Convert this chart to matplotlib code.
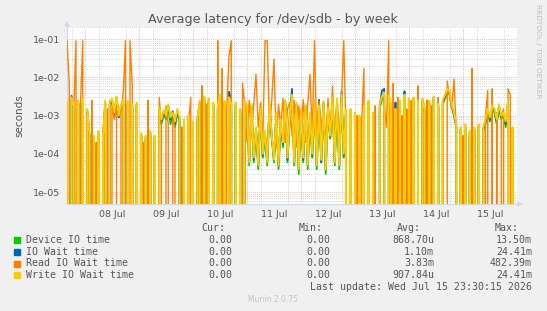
import datetime as dt

import numpy as np
import matplotlib
matplotlib.use('Agg')
import matplotlib.pyplot as plt
import matplotlib.dates as mdates
from matplotlib.ticker import LogLocator, FuncFormatter, NullFormatter

# ------------------------------------------------------------
# data (milliseconds, hourly from 07 Jul 16:00)
# ------------------------------------------------------------

start = dt.datetime(2026, 7, 7, 16, 0)
hours = np.arange(200)

write_ms = [
    2.2, 0, 3.0, 1.8, 0, 2.5, 0, 2.8, 0, 1.5,
    0.35, 0, 0.3, 0, 0.4, 0, 0.3, 2.5, 0, 2.2,
    2.8, 1.2, 3.2, 1.0, 2.0, 2.6, 0, 2.4, 0, 2.0,
    0, 2.2, 0, 0.35, 0, 0.3, 0, 0.4, 0, 0.3,
    0, 1.6, 0.8, 1.4, 1.0, 2.0, 0.9, 1.2, 0.7, 1.5,
    0.9, 0, 0.8, 0, 1.0, 0, 0.7, 0, 0.9, 2.5,
    0, 3.2, 0, 2.8, 0, 2.2, 0, 1.8, 3.5, 0,
    2.4, 0, 3.0, 2.0, 0, 2.2, 0, 1.5, 0, 2.5,
    1.8, 0.06, 2.0, 0.08, 0.5, 0.05, 1.5, 0.1, 0.4, 0.06,
    2.2, 0.3, 0.07, 1.2, 0.05, 0.8, 0.2, 2.6, 0.08, 1.0,
    3.5, 0.06, 2.2, 0.04, 1.5, 0.08, 2.0, 0.05, 1.2, 0.1,
    2.6, 0.05, 1.8, 0.07, 2.4, 0.04, 1.6, 0.3, 3.0, 0.06,
    2.8, 0.05, 3.5, 0.1, 1.5, 0, 1.5, 0, 1.2, 0,
    1.0, 0, 1.8, 0, 2.5, 0, 1.2, 0, 0, 2.0,
    3.2, 4.0, 0, 3.5, 2.0, 0, 1.5, 0, 2.5, 0,
    3.5, 0, 2.8, 0, 3.0, 0, 2.5, 0, 2.8, 1.5,
    0, 2.5, 0, 3.2, 0, 2.0, 0, 2.5, 3.5, 5.0,
    4.5, 2.0, 1.2, 0.6, 0, 0.5, 0, 0.6, 0, 0.4,
    0, 0.5, 0, 0.6, 0, 0.5, 0.8, 1.5, 0.9, 1.8,
    1.5, 0.8, 2.0, 1.0, 1.2, 0.7, 2.5, 0, 0.5, 0,
]

read_ms = [
    90, 7, 0, 1.5, 90, 0, 2.0, 90, 0, 1.0,
    0, 2.5, 0, 0.2, 0, 0, 0.3, 0, 1.5, 0,
    2.0, 0.8, 1.5, 0, 1.2, 4.0, 90, 0, 90, 6.0,
    0, 1.5, 0, 0, 0.2, 0, 2.5, 0, 0, 0.2,
    0, 3.0, 0.5, 0, 1.8, 0.6, 0, 0.8, 0.5, 0,
    0, 0.5, 0, 0, 0.6, 3.0, 0, 0, 0.5, 0,
    6.0, 0, 2.0, 0, 0, 1.5, 0, 90, 0, 17,
    0, 1.5, 35, 90, 0, 2.0, 0, 0, 7.0, 2.0,
    0.2, 2.5, 0.3, 2.0, 12, 0.5, 2.2, 0.2, 90, 90,
    0.4, 2.5, 30, 0.15, 2.0, 0.5, 2.8, 0.2, 1.5, 2.2,
    0.3, 2.5, 0.15, 1.8, 0.4, 2.6, 0.2, 2.0, 12, 0.3,
    90, 0.2, 2.4, 0.5, 1.6, 0.12, 2.8, 0.3, 6.0, 0.2,
    2.0, 0.15, 2.5, 90, 0.3, 0, 1.2, 0, 0, 1.0,
    0, 0.8, 17, 0, 1.5, 0, 0, 1.8, 0, 1.2,
    0, 2.0, 0.5, 90, 0, 7.0, 0, 3.0, 0, 1.0,
    0, 1.5, 0, 2.5, 0, 0, 6.0, 0, 1.2, 0,
    2.5, 0, 1.8, 0, 0, 3.0, 0, 2.0, 0, 8.0,
    3.0, 1.5, 9.0, 0.4, 0, 0, 0.3, 0, 0, 0,
    17, 0, 0, 0.4, 0, 0, 1.0, 4.5, 0, 5.0,
    0, 1.2, 0, 0.8, 1.5, 0, 5.0, 3.5, 0, 0,
]

device_ms = [
    1.8, 0, 2.5, 1.5, 0, 2.0, 0, 2.2, 0, 1.2,
    0.3, 0, 0.25, 0, 0.3, 0, 0.25, 2.0, 0, 2.4,
    2.2, 1.0, 2.6, 0.9, 1.6, 2.0, 0, 2.0, 0, 1.6,
    0, 1.8, 0, 0.3, 0, 0.25, 0, 0.3, 0, 0.25,
    0, 1.3, 0.6, 1.1, 0.8, 1.6, 0.6, 1.0, 0.5, 1.2,
    0.7, 0, 0.6, 0, 0.8, 0, 0.6, 0, 0.7, 2.0,
    0, 2.6, 0, 2.2, 0, 1.8, 0, 1.4, 2.8, 0,
    2.0, 0, 2.4, 1.6, 0, 1.8, 0, 1.2, 0, 2.0,
    1.4, 0.05, 1.6, 0.06, 0.4, 0.04, 1.2, 0.08, 0.3, 0.05,
    1.8, 0.25, 0.06, 1.0, 0.04, 0.6, 0.15, 2.0, 0.06, 0.8,
    2.8, 0.05, 1.8, 0.03, 1.2, 0.06, 1.6, 0.04, 1.0, 0.08,
    2.0, 0.04, 1.4, 0.06, 2.0, 0.03, 1.3, 0.25, 2.4, 0.05,
    2.2, 0.04, 2.8, 0.08, 1.2, 0, 1.2, 0, 1.0, 0,
    0.8, 0, 1.4, 0, 2.0, 0, 1.0, 0, 0, 1.6,
    2.6, 3.2, 0, 2.8, 1.6, 0, 1.2, 0, 2.0, 0,
    2.8, 0, 2.2, 0, 2.4, 0, 2.0, 0, 2.2, 1.2,
    0, 2.0, 0, 2.6, 0, 1.6, 0, 2.0, 2.8, 4.0,
    3.6, 1.6, 1.0, 0.5, 0, 0.4, 0, 0.5, 0, 0.3,
    0, 0.4, 0, 0.5, 0, 0.4, 0.6, 1.2, 0.7, 1.4,
    1.2, 0.6, 1.6, 0.8, 1.0, 0.5, 2.0, 0, 0.4, 0,
]

iowait_ms = [
    2.0, 0, 3.3, 1.6, 0, 2.2, 0, 2.5, 0, 1.4,
    0.3, 0, 0.28, 0, 0.35, 0, 0.28, 2.2, 0, 2.0,
    2.5, 1.1, 3.0, 0.9, 1.8, 2.4, 0, 2.2, 0, 1.8,
    0, 2.0, 0, 0.3, 0, 0.28, 0, 0.35, 0, 0.28,
    0, 1.5, 0.7, 1.3, 0.9, 1.8, 0.8, 1.3, 0.6, 1.3,
    0.8, 0, 0.7, 0, 0.9, 0, 0.6, 0, 0.8, 2.2,
    0, 2.9, 0, 2.5, 0, 2.0, 0, 1.6, 3.2, 0,
    2.2, 0, 4.2, 2.6, 0, 2.0, 0, 1.4, 0, 2.3,
    1.6, 0.06, 1.8, 0.07, 0.45, 0.05, 1.4, 0.09, 0.35, 0.06,
    2.0, 0.28, 0.07, 1.1, 0.05, 0.7, 0.18, 2.4, 0.07, 0.9,
    5.0, 0.06, 2.0, 0.04, 1.4, 0.07, 1.8, 0.05, 1.1, 0.09,
    2.4, 0.05, 2.6, 0.06, 2.2, 0.04, 1.5, 0.28, 2.8, 0.06,
    2.6, 0.05, 4.2, 0.09, 1.4, 0, 1.4, 0, 1.1, 0,
    0.9, 0, 1.6, 0, 2.3, 0, 1.1, 0, 0, 1.8,
    4.5, 5.0, 0, 3.2, 1.8, 0, 2.2, 0, 2.3, 0,
    4.3, 0, 2.6, 0, 2.8, 0, 2.3, 0, 2.6, 1.4,
    0, 2.3, 0, 3.0, 0, 1.8, 0, 2.3, 3.2, 4.6,
    4.2, 1.8, 1.1, 0.55, 0, 0.45, 0, 0.55, 0, 0.35,
    0, 0.45, 0, 0.55, 0, 0.45, 0.7, 1.4, 0.8, 1.6,
    1.4, 0.7, 1.8, 0.9, 1.1, 0.6, 2.3, 0, 0.45, 0,
]

labels = ['Device IO time', 'IO Wait time', 'Read IO Wait time', 'Write IO Wait time']
colors = ['#00CC00', '#0066B3', '#FF8000', '#FFCC00']
cur_vals = ['0.00', '0.00', '0.00', '0.00']
min_vals = ['0.00', '0.00', '0.00', '0.00']
avg_vals = ['868.70u', '1.10m', '3.83m', '907.84u']
max_vals = ['13.50m', '24.41m', '482.39m', '24.41m']

# ------------------------------------------------------------
# figure
# ------------------------------------------------------------

W, H = 547, 311
fig = plt.figure(figsize=(W / 100, H / 100), dpi=100)
fig.patch.set_facecolor('#F0F0F0')

def fx(x):
    return x / W

def fy(y):
    return 1 - y / H

ax = fig.add_axes([fx(67), fy(204), fx(517) - fx(67), fy(27) - fy(204)])
ax.set_facecolor('white')

times = [start + dt.timedelta(hours=int(h)) for h in hours]

widths = [1.3, 1.3, 1.0, 1.4]
for v, c, w in zip([device_ms, iowait_ms, read_ms, write_ms], colors, widths):
    ax.plot(times, np.array(v) / 1000.0, color=c, lw=w, zorder=3)

ax.set_yscale('log', nonpositive='clip')
ax.set_ylim(4.92e-6, 0.206)
ax.set_xlim(start, dt.datetime(2026, 7, 16, 0, 0))

# grid
ax.yaxis.set_major_locator(LogLocator(base=10, numticks=10))
ax.yaxis.set_minor_locator(LogLocator(base=10, subs=np.arange(2, 10), numticks=20))
ax.yaxis.set_major_formatter(FuncFormatter(lambda v, p: f'{v:.0e}'))
ax.yaxis.set_minor_formatter(NullFormatter())
ax.xaxis.set_major_locator(mdates.HourLocator(byhour=[12]))
ax.xaxis.set_major_formatter(mdates.DateFormatter('%d %b'))
ax.xaxis.set_minor_locator(mdates.HourLocator(byhour=[6, 12, 18]))

dot = (0, (1, 1.5))
ax.grid(which='minor', axis='both', color='#c8c8c8', lw=0.6, ls=dot, zorder=1)
ax.grid(which='major', axis='y', color='#f09a9a', lw=0.6, ls=dot, zorder=1)
for d in range(8, 16):
    ax.axvline(dt.datetime(2026, 7, d), color='#f09a9a', lw=0.6, ls=dot, zorder=1)
ax.set_axisbelow(True)

ax.tick_params(which='both', length=0, labelsize=6.8, colors='#555555', pad=5)
ax.tick_params(axis='x', pad=4)

for s in ['top', 'right']:
    ax.spines[s].set_visible(False)
for s in ['left', 'bottom']:
    ax.spines[s].set_color('#CFD6F8')
    ax.spines[s].set_linewidth(0.8)

# axis arrows
arrow = dict(arrowstyle='-|>', color='#CFD6F8', lw=0.8, mutation_scale=7)
ax.annotate('', xy=(0, 1.05), xytext=(0, 0.99), xycoords='axes fraction', arrowprops=arrow)
ax.annotate('', xy=(1.02, 0), xytext=(0.99, 0), xycoords='axes fraction', arrowprops=arrow)

ax.set_ylabel('seconds', fontsize=7.5, color='#555555', labelpad=6)

# title and side text
fig.text(fx(273), fy(19), 'Average latency for /dev/sdb - by week',
         ha='center', va='center', fontsize=9.2, color='#555555')
fig.text(fx(538), fy(4), 'RRDTOOL / TOBI OETIKER', rotation=270,
         ha='center', va='top', fontsize=5.3, color='#bdbdbd')

# ------------------------------------------------------------
# legend table
# ------------------------------------------------------------

mono = dict(family='DejaVu Sans Mono', fontsize=7.1, color='#555555', va='center')

for x, h in zip([225, 323, 421, 519], ['Cur:', 'Min:', 'Avg:', 'Max:']):
    fig.text(fx(x), fy(228), h, ha='right', **mono)

rows_y = [240, 252, 263.5, 275]
for i, y in enumerate(rows_y):
    fig.patches.append(plt.Rectangle((fx(14), fy(y + 3)), fx(6), fy(0) - fy(6),
                                     transform=fig.transFigure, color=colors[i]))
    fig.text(fx(26), fy(y), labels[i], ha='left', **mono)
    fig.text(fx(232), fy(y), cur_vals[i], ha='right', **mono)
    fig.text(fx(330), fy(y), min_vals[i], ha='right', **mono)
    fig.text(fx(434), fy(y), avg_vals[i], ha='right', **mono)
    fig.text(fx(532), fy(y), max_vals[i], ha='right', **mono)

fig.text(fx(532), fy(287.5), 'Last update: Wed Jul 15 23:30:15 2026', ha='right', **mono)
fig.text(fx(273), fy(300), 'Munin 2.0.75', ha='center', va='center',
         fontsize=5.5, color='#c4c4c4')

plt.savefig('out.png', dpi=100, facecolor=fig.get_facecolor())
